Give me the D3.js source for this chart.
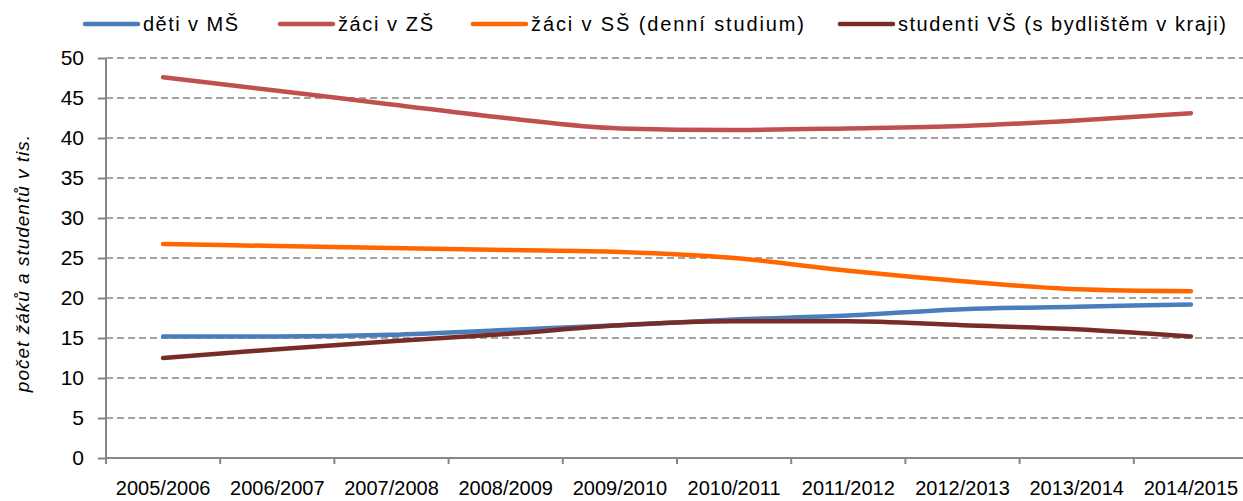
<!DOCTYPE html>
<html>
<head>
<meta charset="utf-8">
<script src="https://cdn.jsdelivr.net/npm/d3@7"></script>
<style>
  body { margin: 0; background: #fff; }
  svg { font-family: "Liberation Sans", Arial, sans-serif; }
  .grid line { stroke: #868686; stroke-width: 1.5; stroke-dasharray: 7 4; }
  .axis path, .axis line { stroke: #868686; stroke-width: 2; }
  .axis text { fill: #000; }
</style>
</head>
<body>
<div id="vis"></div>
<script>
// school years on the x axis
var years = ['2005/2006', '2006/2007', '2007/2008', '2008/2009', '2009/2010',
    '2010/2011', '2011/2012', '2012/2013', '2013/2014', '2014/2015'];

// values in thousands
var detiMS = [15.2, 15.2, 15.4, 16.0, 16.6, 17.3, 17.8, 18.6, 18.9, 19.2];
var zaciZS = [47.6, 45.9, 44.2, 42.5, 41.2, 41.0, 41.2, 41.5, 42.2, 43.1];
var zaciSS = [26.75, 26.5, 26.25, 26.0, 25.75, 25.0, 23.4, 22.1, 21.1, 20.85];
var studentiVS = [12.5, 13.6, 14.6, 15.5, 16.6, 17.1, 17.1, 16.6, 16.1, 15.2];

var seriesNames = ['děti v MŠ', 'žáci v ZŠ', 'žáci v SŠ (denní studium)', 'studenti VŠ (s bydlištěm v kraji)'];
var seriesColors = ['#4a7ebb', '#c0504d', '#ff6600', '#772c2a'];
var yTicks = [0, 5, 10, 15, 20, 25, 30, 35, 40, 45, 50];

var series = [detiMS, zaciZS, zaciSS, studentiVS];

var width = 1243, height = 501;
var margin = { left: 106, top: 58, right: -5, bottom: 43 };
var drawWidth = width - margin.left - margin.right;
var drawHeight = height - margin.top - margin.bottom;

var svg = d3.select('#vis').append('svg')
    .attr('width', width)
    .attr('height', height);

var g = svg.append('g')
    .attr('transform', 'translate(' + margin.left + ',' + margin.top + ')');

var xScale = d3.scaleBand().domain(years).range([0, drawWidth]).padding(0);
var yScale = d3.scaleLinear().domain([0, 50]).range([drawHeight, 0]);

// dashed gridlines
g.append('g').attr('class', 'grid')
    .selectAll('line')
    .data(yTicks.filter(function(d) { return d > 0; }))
    .enter().append('line')
    .attr('x1', 0)
    .attr('x2', drawWidth)
    .attr('y1', function(d) { return yScale(d); })
    .attr('y2', function(d) { return yScale(d); });

// y axis
var yAxis = d3.axisLeft(yScale).tickValues(yTicks).tickSize(8).tickPadding(14);
g.append('g').attr('class', 'axis')
    .call(yAxis)
    .call(function(s) {
        s.select('.domain').attr('d', 'M0,0V' + drawHeight);
        s.selectAll('text').attr('font-size', 21);
    });

// x axis: labels centred, ticks on category boundaries
var xAxis = d3.axisBottom(xScale).tickSize(0).tickPadding(23);
var xg = g.append('g').attr('class', 'axis')
    .attr('transform', 'translate(0,' + drawHeight + ')')
    .call(xAxis);
xg.select('.domain').attr('d', 'M0,0H' + drawWidth);
xg.selectAll('text').attr('font-size', 20);
xg.selectAll('.bound')
    .data(years)
    .enter().append('line')
    .attr('class', 'bound')
    .attr('x1', function(d) { return xScale(d); })
    .attr('x2', function(d) { return xScale(d); })
    .attr('y1', 0)
    .attr('y2', 6);

// y axis title
svg.append('text')
    .attr('transform', 'translate(29,263) rotate(-90)')
    .attr('text-anchor', 'middle')
    .style('font-size', '19px')
    .style('letter-spacing', '1px')
    .style('font-style', 'italic')
    .text('počet žáků a studentů v tis.');

// lines
var line = d3.line()
    .x(function(d, i) { return xScale(years[i]) + xScale.bandwidth() / 2; })
    .y(function(d) { return yScale(d); })
    .curve(d3.curveMonotoneX);

g.selectAll('.series')
    .data(series)
    .enter().append('path')
    .attr('class', 'series')
    .attr('d', line)
    .attr('fill', 'none')
    .attr('stroke', function(d, i) { return seriesColors[i]; })
    .attr('stroke-width', 4.5)
    .attr('stroke-linecap', 'round')
    .attr('stroke-linejoin', 'round');

// legend
var legendX = [85, 280, 473, 840];
var legendW = [95, 95, 273, 328];
var legend = svg.selectAll('.legend')
    .data(seriesNames)
    .enter().append('g')
    .attr('class', 'legend')
    .attr('transform', function(d, i) { return 'translate(' + legendX[i] + ',24)'; });

legend.append('line')
    .attr('x1', 0).attr('x2', 53)
    .attr('y1', 0).attr('y2', 0)
    .attr('stroke', function(d, i) { return seriesColors[i]; })
    .attr('stroke-width', 4.5)
    .attr('stroke-linecap', 'round');

legend.append('text')
    .attr('x', 58)
    .attr('y', 7)
    .attr('textLength', function(d, i) { return legendW[i]; })
    .attr('lengthAdjust', 'spacing')
    .style('font-size', '20px')
    .text(function(d) { return d; });
</script>
</body>
</html>
